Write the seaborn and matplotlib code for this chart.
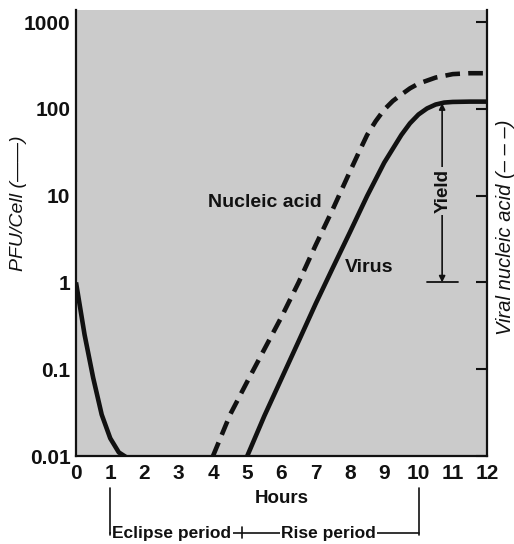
import matplotlib
matplotlib.use("Agg")
import matplotlib.pyplot as plt
import matplotlib.transforms as mtransforms
import seaborn as sns
import pandas as pd

# one-step growth curve
eclipse_hours = [0, 0.25, 0.5, 0.75, 1.0, 1.25, 1.5]
eclipse_pfu = [1.0, 0.25, 0.08, 0.03, 0.016, 0.011, 0.0095]

virus_hours = [5, 5.5, 6, 6.5, 7, 7.5, 8, 8.5, 9, 9.5, 9.75, 10, 10.25, 10.5, 10.75, 11, 11.5, 12]
virus_pfu = [0.01, 0.029, 0.078, 0.21, 0.57, 1.48, 3.8, 9.9, 24, 50, 68, 86, 101, 112, 118, 120, 121, 121]

nucleic_hours = [4, 4.5, 5, 5.5, 6, 6.5, 7, 7.5, 8, 8.25, 8.5, 8.75, 9, 9.25, 9.5, 9.75, 10,
                 10.5, 11, 11.5, 12]
nucleic_amount = [0.01, 0.03, 0.072, 0.17, 0.40, 1.0, 2.7, 7, 19, 31, 50, 72, 98, 123, 146, 172, 195,
                  229, 251, 257, 257]

hour_ticks = list(range(13))
decade_ticks = [0.01, 0.1, 1, 10, 100, 1000]
decade_labels = ["0.01", "0.1", "1", "10", "100", "1000"]

ink = "#111111"
paper = "#cbcbcb"

sns.set_style("white")
plt.rcParams["font.family"] = ["Liberation Sans", "DejaVu Sans"]
plt.rcParams.update({"text.color": ink, "axes.labelcolor": ink,
                     "xtick.color": ink, "ytick.color": ink})

fig = plt.figure(figsize=(5.14, 5.44), dpi=100)
ax = fig.add_axes([76 / 514, 88 / 544, 411 / 514, 446 / 544])
ax.set_facecolor(paper)

df_ecl = pd.DataFrame({"h": eclipse_hours, "v": eclipse_pfu})
df_vir = pd.DataFrame({"h": virus_hours, "v": virus_pfu})
df_nuc = pd.DataFrame({"h": nucleic_hours, "v": nucleic_amount})

sns.lineplot(data=df_ecl, x="h", y="v", ax=ax, color=ink, lw=3.3)
sns.lineplot(data=df_vir, x="h", y="v", ax=ax, color=ink, lw=3.3)
sns.lineplot(data=df_nuc, x="h", y="v", ax=ax, color=ink, lw=3.3)
ax.lines[-1].set_dashes((3.2, 1.8))
for ln in ax.lines:
    ln.set_solid_joinstyle("round")
    ln.set_solid_capstyle("butt")

ax.set_yscale("log")
ax.set_xlim(0, 12)
ax.set_ylim(0.01, 1375)

ax.set_xticks(hour_ticks)
ax.set_xticklabels([str(h) for h in hour_ticks], fontsize=15, fontweight="bold")
ax.set_yticks(decade_ticks)
ax.set_yticklabels(decade_labels, fontsize=15, fontweight="bold")
ax.minorticks_off()
ax.tick_params(axis="both", direction="in", length=8, width=1.5, color=ink)
ax.tick_params(axis="x", pad=6)
ax.tick_params(axis="y", pad=4, right=True, labelright=False)

for side in ["left", "bottom", "right"]:
    ax.spines[side].set_linewidth(1.6)
    ax.spines[side].set_color(ink)
ax.spines["top"].set_visible(False)

ax.set_xlabel("Hours", fontsize=13.5, fontweight="bold", labelpad=5)
ax.set_ylabel("")
ax.text(-0.139, 0.567, "PFU/Cell (——)", transform=ax.transAxes, rotation=90,
        ha="center", va="center", fontsize=14, style="italic")
ax.text(1.044, 0.513, "Viral nucleic acid (– – –)", transform=ax.transAxes,
        rotation=90, va="center", ha="center", fontsize=14.5, style="italic")

# curve labels
ax.text(5.5, 8.3, "Nucleic acid", ha="center", va="center", fontsize=14, fontweight="bold")
ax.text(8.56, 1.5, "Virus", ha="center", va="center", fontsize=14, fontweight="bold")

# yield arrow
ax.annotate("", xy=(10.69, 116), xytext=(10.69, 1.0),
            arrowprops=dict(arrowstyle="<|-|>", color=ink, lw=1.2, mutation_scale=9,
                            shrinkA=0, shrinkB=0))
ax.plot([10.26, 11.16], [1.0, 1.0], color=ink, lw=1.3)
ax.text(10.72, 11.2, "Yield", rotation=90, ha="center", va="center", fontsize=13.5,
        fontweight="bold", bbox=dict(facecolor=paper, edgecolor="none", pad=1.5))

# period bracket under the axis
tr = mtransforms.blended_transform_factory(ax.transData, ax.transAxes)
yb = -0.173
for xh in [1, 10]:
    ax.plot([xh, xh], [-0.072, yb - 0.005], color=ink, lw=1.2, transform=tr, clip_on=False)
ax.plot([1, 10], [yb, yb], color=ink, lw=1.2, transform=tr, clip_on=False)
ax.plot([4.86, 4.86], [yb + 0.013, yb - 0.01], color=ink, lw=1.2, transform=tr, clip_on=False)
ax.text(2.8, yb, "Eclipse period", transform=tr, ha="center", va="center", fontsize=12.5,
        fontweight="bold", bbox=dict(facecolor="white", edgecolor="none", pad=1))
ax.text(7.37, yb, "Rise period", transform=tr, ha="center", va="center", fontsize=12.5,
        fontweight="bold", bbox=dict(facecolor="white", edgecolor="none", pad=1))

fig.savefig("out.png", dpi=100)
